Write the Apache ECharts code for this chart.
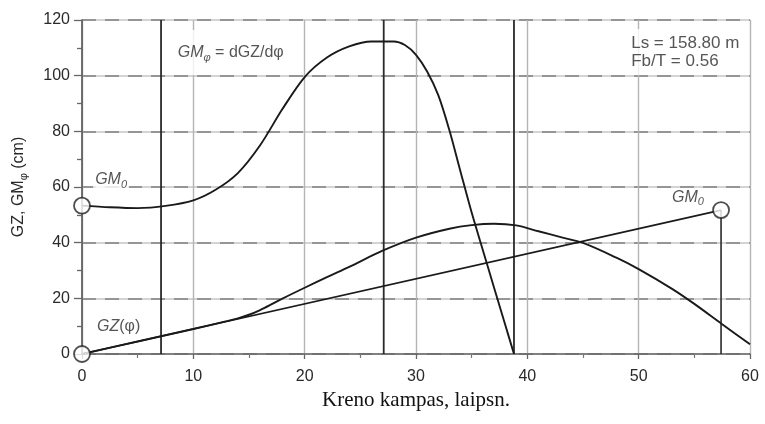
<!DOCTYPE html>
<html>
<head>
<meta charset="utf-8">
<script src="https://cdn.jsdelivr.net/npm/echarts@6/dist/echarts.min.js"></script>
<style>
  html, body { margin: 0; padding: 0; background: #fff; }
  #chart { width: 765px; height: 424px; }
</style>
</head>
<body>
<div id="chart"></div>
<script>
// Heel angle (deg) and GM_phi = dGZ/dphi (cm)
const gmAngles = [0, 2.5, 5, 7.5, 10, 12, 14, 16, 18, 20, 22, 24, 26, 28, 29, 30, 31, 32, 33, 34, 35, 36, 37, 38, 38.8];
const gmValues = [53.3, 52.7, 52.4, 53.2, 55.2, 59, 65, 75, 88, 99.5, 106.5, 110.5, 112.3, 112.3, 111, 107.5, 101.5, 93, 80.4, 65.5, 50.8, 37.4, 24, 10.7, 0];

// Heel angle (deg) and righting arm GZ(phi) (cm)
const gzAngles = [0, 5, 10, 13, 14, 15, 16, 17, 18, 20, 22, 24, 27, 30, 33, 35, 37, 39, 41, 43, 45, 48, 50, 53, 55, 57.5, 60];
const gzValues = [0, 4.5, 9, 11.8, 12.8, 14.1, 15.8, 17.8, 19.9, 23.8, 27.6, 31.3, 37.1, 41.8, 45, 46.3, 46.8, 46.2, 44.1, 42, 39.9, 34.6, 30.5, 23.4, 18, 10.7, 3.5];

// Initial metacentric height GM0 and the tangent drawn to 1 rad
const gm0 = 53.3;
const radianAngle = 57.4;
const gm0AtRadian = 51.7;

// Heel angles marked by full-height vertical lines
const markerAngles = [7.1, 27.1, 38.8];

// Axis ranges and tick steps
const xRange = [0, 60], xStep = 10;
const yRange = [0, 120], yStep = 20;

// Texts
const yAxisTitle = 'GZ, GM{sub|φ} (cm)';
const xAxisTitle = 'Kreno kampas, laipsn.';
const shipInfo = ['Ls = 158.80 m', 'Fb/T = 0.56'];

const SANS = '"Liberation Sans", Arial, Helvetica, sans-serif';
const SERIF = '"Liberation Serif", "Times New Roman", serif';
const INK = '#1a1a1a';
const TEXT = '#2a2a2a';

const chart = echarts.init(document.getElementById('chart'), null, { renderer: 'canvas' });

const zip = (xs, ys) => xs.map((x, i) => [x, ys[i]]);

const richBase = {
  it:  { fontFamily: SANS, fontStyle: 'italic', fontSize: 16, color: TEXT, lineHeight: 21 },
  n:   { fontFamily: SANS, fontSize: 16, color: TEXT, lineHeight: 21 },
  sub: { fontFamily: SANS, fontSize: 11, color: TEXT, lineHeight: 21, verticalAlign: 'bottom' },
  subi:{ fontFamily: SANS, fontSize: 11, fontStyle: 'italic', color: TEXT, lineHeight: 21, verticalAlign: 'bottom' }
};

function note(x, y, text, extra) {
  return {
    value: [x, y],
    label: Object.assign({
      show: true,
      position: 'right',
      distance: 0,
      formatter: text,
      rich: richBase
    }, extra || {})
  };
}

const verticalSeries = markerAngles.map(a => ({
  type: 'line',
  data: [[a, yRange[0]], [a, yRange[1]]],
  symbol: 'none',
  silent: true,
  z: 3,
  lineStyle: { color: '#2a2a2a', width: 1.8 }
}));

const option = {
  backgroundColor: '#fff',
  animation: false,
  grid: { left: 82, right: 15, top: 20, bottom: 70, containLabel: false },
  xAxis: {
    type: 'value',
    min: xRange[0], max: xRange[1], interval: xStep,
    name: xAxisTitle,
    nameLocation: 'middle',
    nameGap: 30,
    nameTextStyle: { fontFamily: SERIF, fontSize: 21, color: '#111' },
    axisLine: { show: true, onZero: false, lineStyle: { color: '#666', width: 1.5 } },
    axisTick: { show: true, length: 5, lineStyle: { color: '#666', width: 1.3 } },
    minorTick: { show: true, splitNumber: 2, length: 4, lineStyle: { color: '#777', width: 1.2 } },
    axisLabel: { fontFamily: SANS, fontSize: 16, color: TEXT, margin: 15 },
    splitLine: { show: true, lineStyle: { color: '#b4b4b4', width: 1.4 } }
  },
  yAxis: [{
    type: 'value',
    min: yRange[0], max: yRange[1], interval: yStep,
    name: yAxisTitle,
    nameLocation: 'middle',
    nameRotate: 90,
    nameGap: 53,
    nameTextStyle: {
      fontFamily: SANS, fontSize: 16, color: TEXT,
      rich: { sub: { fontFamily: SANS, fontSize: 11, color: TEXT, verticalAlign: 'bottom', lineHeight: 21 } }
    },
    axisLine: { show: true, lineStyle: { color: '#555', width: 1.6 } },
    axisTick: { show: true, length: 8, lineStyle: { color: '#666', width: 1.3 } },
    minorTick: { show: true, splitNumber: 2, length: 5, lineStyle: { color: '#666', width: 1.3 } },
    axisLabel: { fontFamily: SANS, fontSize: 16, color: TEXT, margin: 12 },
    splitLine: { show: true, lineStyle: { color: '#c6c6c6', width: 1.5 } }
  }, {
    // dashed overlay on the horizontal grid
    type: 'value',
    min: yRange[0], max: yRange[1], interval: yStep,
    position: 'left',
    axisLine: { show: false }, axisTick: { show: false }, axisLabel: { show: false },
    splitLine: { show: true, lineStyle: { color: '#808080', width: 1.5, type: [14, 9] } }
  }],
  series: [
    ...verticalSeries,
    {
      // vertical drop from GM0 at 1 rad
      type: 'line',
      data: [[radianAngle, 0], [radianAngle, gm0AtRadian]],
      symbol: 'none', silent: true, z: 3,
      lineStyle: { color: '#2a2a2a', width: 1.6 }
    },
    {
      name: 'GMphi',
      type: 'line',
      data: zip(gmAngles, gmValues),
      smooth: 0.3,
      symbol: 'none', z: 4,
      lineStyle: { color: INK, width: 1.9 }
    },
    {
      name: 'GZ',
      type: 'line',
      data: zip(gzAngles, gzValues),
      smooth: 0.3,
      symbol: 'none', z: 4,
      lineStyle: { color: INK, width: 1.9 }
    },
    {
      name: 'tangent',
      type: 'line',
      data: [[0, 0], [radianAngle, gm0AtRadian]],
      symbol: 'none', z: 4,
      lineStyle: { color: INK, width: 1.7 }
    },
    {
      name: 'points',
      type: 'scatter',
      data: [[0, 0], [0, gm0], [radianAngle, gm0AtRadian]],
      symbol: 'circle',
      symbolSize: 16,
      clip: false,
      z: 6,
      itemStyle: { color: '#fff', borderColor: '#222', borderWidth: 1.8 }
    },
    {
      name: 'notes',
      type: 'scatter',
      symbolSize: 0,
      silent: true,
      z: 7,
      data: [
        note(7.7, 108.3, '{it|GM}{subi|φ}{n| = dGZ/dφ}', { backgroundColor: '#fff', padding: [12, 8, 12, 10] }),
        note(1.0, 62.5, '{it|GM}{subi|0}', { backgroundColor: '#fff', padding: [0, 2, 0, 2] }),
        note(1.35, 9.7, '{it|GZ}{n|(φ)}'),
        note(53.0, 56.3, '{it|GM}{subi|0}'),
        note(48.7, 108.5, shipInfo.join('\n'), {
          fontFamily: SANS, fontSize: 17, color: TEXT, lineHeight: 18,
          backgroundColor: '#fff', padding: [5, 5, 5, 7], rich: {}
        })
      ]
    }
  ]
};

chart.setOption(option);
</script>
</body>
</html>
